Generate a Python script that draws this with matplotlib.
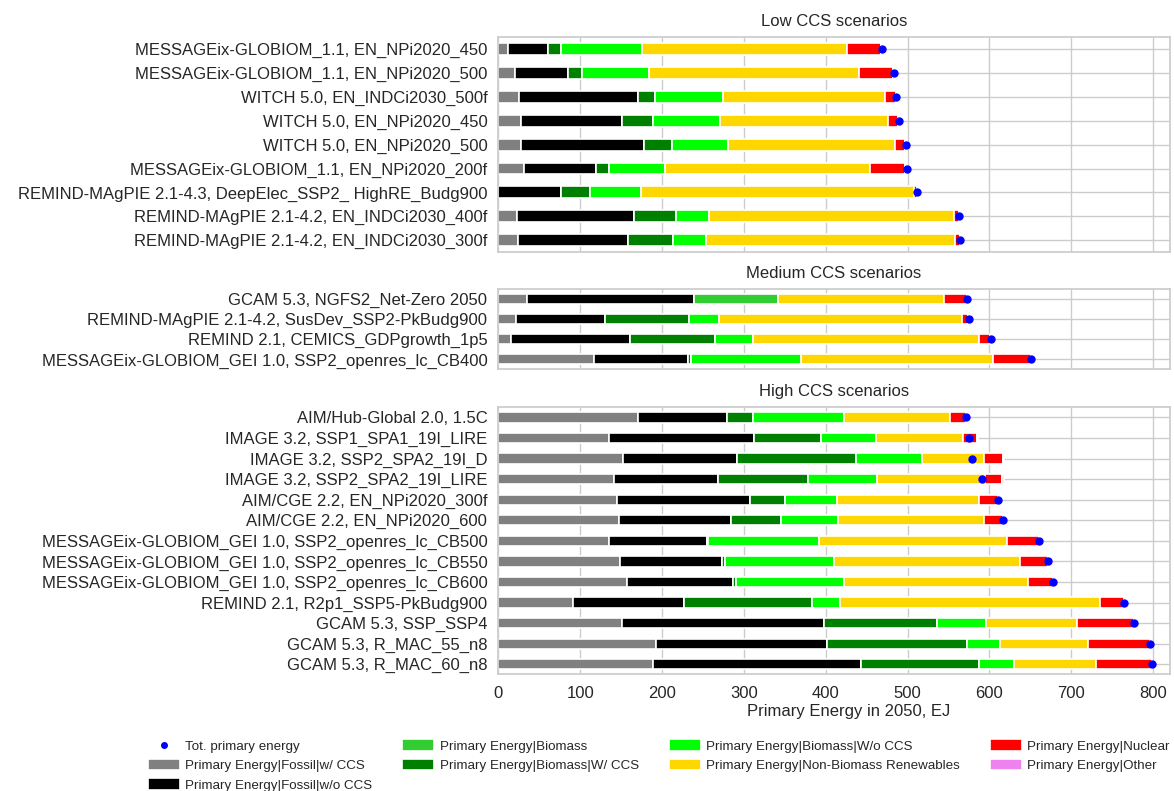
import numpy as np
import matplotlib
matplotlib.use("Agg")
import matplotlib.pyplot as plt

plt.rcParams['font.family'] = ['Liberation Sans', 'DejaVu Sans']
plt.rcParams['text.color'] = '.15'
plt.rcParams['axes.labelcolor'] = '.15'
plt.rcParams['xtick.color'] = '.15'
plt.rcParams['ytick.color'] = '.15'

scenarios = [
    "MESSAGEix-GLOBIOM_1.1, EN_NPi2020_450",
    "MESSAGEix-GLOBIOM_1.1, EN_NPi2020_500",
    "WITCH 5.0, EN_INDCi2030_500f",
    "WITCH 5.0, EN_NPi2020_450",
    "WITCH 5.0, EN_NPi2020_500",
    "MESSAGEix-GLOBIOM_1.1, EN_NPi2020_200f",
    "REMIND-MAgPIE 2.1-4.3, DeepElec_SSP2_ HighRE_Budg900",
    "REMIND-MAgPIE 2.1-4.2, EN_INDCi2030_400f",
    "REMIND-MAgPIE 2.1-4.2, EN_INDCi2030_300f",
    "GCAM 5.3, NGFS2_Net-Zero 2050",
    "REMIND-MAgPIE 2.1-4.2, SusDev_SSP2-PkBudg900",
    "REMIND 2.1, CEMICS_GDPgrowth_1p5",
    "MESSAGEix-GLOBIOM_GEI 1.0, SSP2_openres_lc_CB400",
    "AIM/Hub-Global 2.0, 1.5C",
    "IMAGE 3.2, SSP1_SPA1_19I_LIRE",
    "IMAGE 3.2, SSP2_SPA2_19I_D",
    "IMAGE 3.2, SSP2_SPA2_19I_LIRE",
    "AIM/CGE 2.2, EN_NPi2020_300f",
    "AIM/CGE 2.2, EN_NPi2020_600",
    "MESSAGEix-GLOBIOM_GEI 1.0, SSP2_openres_lc_CB500",
    "MESSAGEix-GLOBIOM_GEI 1.0, SSP2_openres_lc_CB550",
    "MESSAGEix-GLOBIOM_GEI 1.0, SSP2_openres_lc_CB600",
    "REMIND 2.1, R2p1_SSP5-PkBudg900",
    "GCAM 5.3, SSP_SSP4",
    "GCAM 5.3, R_MAC_55_n8",
    "GCAM 5.3, R_MAC_60_n8",
]
group = ["Low"] * 9 + ["Medium"] * 4 + ["High"] * 13

# EJ in 2050
fossil_ccs = [11.8, 20.4, 24.8, 28.1, 27.7, 30.9, 0, 22.8, 24.0,
              34.6, 20.8, 15.1, 116.5,
              171.0, 135.2, 152.7, 140.9, 144.6, 147.4, 135.2, 148.6, 156.8, 91.6, 151.1, 192.6, 189.0]
fossil_noccs = [49.3, 65.1, 145.4, 123.0, 149.9, 88.0, 76.1, 142.5, 134.0,
                204.0, 109.1, 145.3, 115.2,
                108.8, 176.7, 138.5, 127.9, 162.9, 137.3, 119.3, 125.1, 130.3, 135.6, 246.2, 209.1, 253.9]
biomass = [0, 0, 0, 0, 0, 0, 0, 0, 0,
           103.2, 0, 0, 0,
           0, 0, 0, 0, 0, 0, 0, 0, 0, 0, 0, 0, 0]
biomass_ccs = [15.4, 16.3, 20.8, 37.9, 34.2, 16.7, 35.5, 51.8, 55.0,
               0, 103.0, 104.7, 3.1,
               31.7, 82.5, 145.6, 109.7, 42.9, 60.2, 1.9, 2.6, 2.7, 155.8, 138.4, 171.1, 144.6]
biomass_noccs = [98.6, 81.9, 83.1, 81.4, 68.4, 68.4, 63.1, 39.9, 40.3,
                 0, 36.3, 45.6, 134.7,
                 111.0, 67.2, 80.2, 84.3, 63.6, 69.5, 135.0, 133.2, 132.7, 34.2, 60.3, 40.3, 42.7]
renewables = [251.3, 257.3, 197.9, 205.3, 204.0, 250.5, 333.0, 299.2, 304.1,
              203.2, 296.6, 275.9, 234.6,
              128.7, 106.3, 75.8, 132.0, 172.6, 178.4, 230.3, 227.2, 224.8, 318.1, 110.8, 107.5, 99.4]
nuclear = [41.5, 41.6, 13.4, 13.0, 13.0, 42.3, 3.5, 6.3, 6.4,
           26.9, 8.1, 14.6, 46.4,
           20.0, 17.1, 23.6, 20.8, 24.1, 23.6, 38.7, 34.3, 30.2, 29.3, 69.6, 75.8, 68.8]
other = [0, 0, 0, 0, 0, 0, 0, 0, 0,
         0, 0, 0, 0,
         0, 1.4, 1.4, 2.2, 0, 0, 0, 0, 0, 0, 0, 0, 0]
total = [469.0, 483.5, 485.8, 489.0, 497.6, 498.8, 511.4, 563.0, 564.0,
         572.5, 574.6, 601.4, 651.0,
         571.8, 575.5, 578.3, 591.3, 610.5, 617.0, 660.6, 671.0, 677.6, 764.7, 777.0, 796.3, 798.6]

series = [
    ("Primary Energy|Fossil|w/ CCS", fossil_ccs, "grey"),
    ("Primary Energy|Fossil|w/o CCS", fossil_noccs, "black"),
    ("Primary Energy|Biomass", biomass, "limegreen"),
    ("Primary Energy|Biomass|W/ CCS", biomass_ccs, "green"),
    ("Primary Energy|Biomass|W/o CCS", biomass_noccs, "lime"),
    ("Primary Energy|Non-Biomass Renewables", renewables, "gold"),
    ("Primary Energy|Nuclear", nuclear, "red"),
    ("Primary Energy|Other", other, "violet"),
]

panels = [("Low", "Low CCS scenarios", 0.6814, 0.2714),
          ("Medium", "Medium CCS scenarios", 0.5329, 0.1018),
          ("High", "High CCS scenarios", 0.1473, 0.3379)]

fig = plt.figure(figsize=(11.74, 7.91), dpi=100)
axes = []
for g, title, bottom, height in panels:
    ax = fig.add_axes([0.4246, bottom, 0.5716, height], sharex=axes[0] if axes else None)
    idx = [i for i, gg in enumerate(group) if gg == g]
    n = len(idx)
    ypos = np.arange(n)[::-1]
    left = np.zeros(n)
    bar_handles = []
    for name, vals, col in series:
        v = np.array([vals[i] for i in idx])
        b = ax.barh(ypos, v, left=left, height=0.5, color=col, edgecolor='white',
                    linewidth=1.2, label=name, zorder=2)
        bar_handles.append(b)
        left += v
    dots = ax.scatter([total[i] for i in idx], ypos, color='blue', s=25, zorder=3,
                      label='Tot. primary energy')
    ax.set_yticks(ypos)
    ax.set_yticklabels([scenarios[i] for i in idx], fontsize=12.3)
    ax.set_ylim(-0.5, n - 0.5)
    ax.set_xlim(0, 820)
    ax.set_title(title, fontsize=12, pad=8)
    ax.set_axisbelow(True)
    ax.grid(True, color='#cccccc', linewidth=1)
    for sp in ax.spines.values():
        sp.set_color('#cccccc')
        sp.set_linewidth(1.25)
    ax.tick_params(length=0, pad=8, labelsize=12)
    if g != "High":
        ax.tick_params(labelbottom=False)
    axes.append(ax)

ax = axes[-1]
ax.set_xticks(np.arange(0, 801, 100))
ax.set_xlabel("Primary Energy in 2050, EJ", fontsize=12)
ax.xaxis.set_label_coords(0.522, -0.11)

handles = [dots] + bar_handles
labels = ['Tot. primary energy'] + [s[0] for s in series]
fig.legend(handles, labels, ncol=4, loc='upper left',
           bbox_to_anchor=(136 / 1174, 1 - 727 / 791), frameon=False,
           fontsize=9.6, handlelength=2.4, handleheight=1.0, handletextpad=0.4,
           columnspacing=2.25, labelspacing=0.45, scatterpoints=1, markerscale=0.8)

fig.savefig("out.png", dpi=100)
